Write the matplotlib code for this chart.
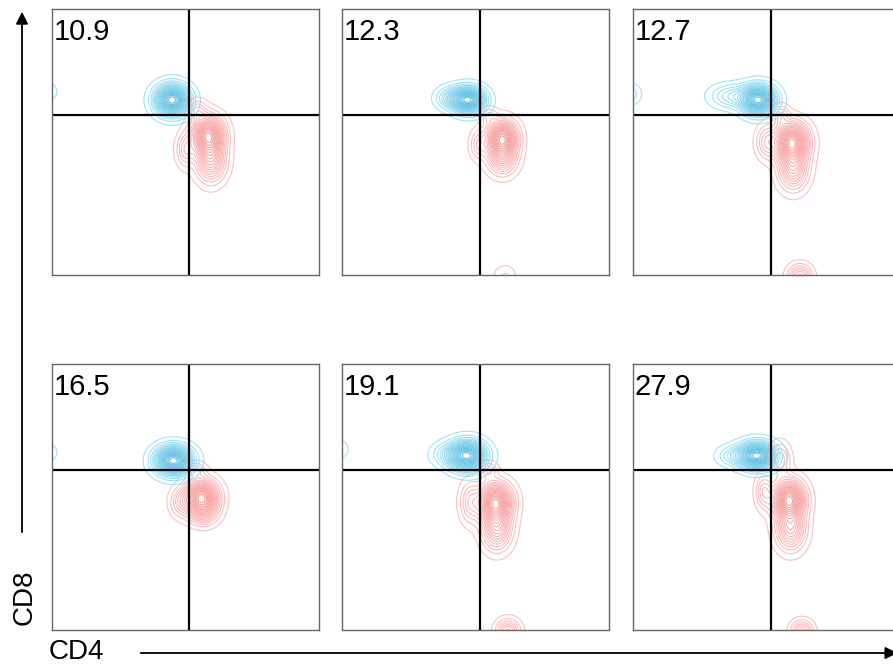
import numpy as np
import matplotlib.pyplot as plt
from matplotlib.patches import FancyArrowPatch
from matplotlib.colors import LinearSegmentedColormap

plt.rcParams['font.family'] = ['Liberation Sans', 'DejaVu Sans']

panel_labels = ['10.9', '12.3', '12.7', '16.5', '19.1', '27.9']

# quadrant gate, in axes fraction
gate_x = [0.513, 0.515, 0.516, 0.513, 0.515, 0.516]
gate_y = [0.600, 0.603, 0.603, 0.600, 0.600, 0.603]

# populations as (x, y, sx, sy, weight)
cd8_pops = [
    [(0.450, 0.658, 0.040, 0.036, 1.0), (-0.010, 0.690, 0.022, 0.022, 0.07)],
    [(0.475, 0.658, 0.038, 0.030, 1.0), (0.410, 0.665, 0.035, 0.026, 0.30)],
    [(0.470, 0.658, 0.040, 0.034, 1.0), (0.370, 0.672, 0.050, 0.028, 0.25),
     (-0.010, 0.680, 0.025, 0.025, 0.13)],
    [(0.455, 0.637, 0.043, 0.034, 1.0), (-0.010, 0.667, 0.022, 0.022, 0.07)],
    [(0.470, 0.655, 0.043, 0.035, 1.0), (0.400, 0.660, 0.040, 0.028, 0.20),
     (-0.010, 0.680, 0.024, 0.024, 0.08)],
    [(0.465, 0.655, 0.043, 0.031, 1.0), (0.380, 0.655, 0.040, 0.024, 0.20)],
]

cd4_pops = [
    [(0.585, 0.525, 0.037, 0.045, 1.0), (0.595, 0.430, 0.035, 0.050, 0.55),
     (0.500, 0.470, 0.022, 0.040, 0.25), (0.545, 0.620, 0.022, 0.025, 0.20)],
    [(0.600, 0.515, 0.035, 0.040, 1.0), (0.600, 0.440, 0.035, 0.040, 0.45),
     (0.510, 0.490, 0.020, 0.035, 0.20), (0.550, 0.600, 0.020, 0.020, 0.15),
     (0.610, -0.005, 0.027, 0.027, 0.10)],
    [(0.595, 0.500, 0.039, 0.045, 1.0), (0.600, 0.400, 0.035, 0.050, 0.50),
     (0.500, 0.500, 0.025, 0.040, 0.25), (0.555, 0.600, 0.020, 0.025, 0.20),
     (0.625, -0.005, 0.028, 0.028, 0.40)],
    [(0.560, 0.500, 0.039, 0.040, 1.0), (0.480, 0.480, 0.025, 0.035, 0.20),
     (0.535, 0.600, 0.025, 0.020, 0.20), (0.565, 0.440, 0.035, 0.030, 0.30)],
    [(0.575, 0.480, 0.039, 0.045, 1.0), (0.580, 0.380, 0.035, 0.050, 0.50),
     (0.480, 0.480, 0.025, 0.050, 0.25), (0.550, 0.600, 0.020, 0.020, 0.20),
     (0.622, -0.005, 0.028, 0.028, 0.40)],
    [(0.585, 0.490, 0.037, 0.045, 1.0), (0.590, 0.380, 0.035, 0.050, 0.50),
     (0.490, 0.520, 0.020, 0.040, 0.25), (0.550, 0.640, 0.025, 0.040, 0.25),
     (0.633, -0.005, 0.026, 0.026, 0.35)],
]

blue_map = LinearSegmentedColormap.from_list('cd8', ['#8ee0f6', '#4db3dc'])
red_map = LinearSegmentedColormap.from_list('cd4', ['#fbb6b6', '#f48e8e'])

gx = np.linspace(0, 1, 400)
X, Y = np.meshgrid(gx, gx)


def density(pops):
    z = np.zeros_like(X)
    for (cx, cy, sx, sy, w) in pops:
        z += w * np.exp(-0.5 * ((X - cx) / sx) ** 2 - 0.5 * ((Y - cy) / sy) ** 2)
    return z


def draw_panel(ax, i):
    for pops, cmap in [(cd4_pops[i], red_map), (cd8_pops[i], blue_map)]:
        z = density(pops)
        lev = z.max() * np.linspace(0.03, 0.95, 18)
        ax.contour(X, Y, z, levels=lev, cmap=cmap, linewidths=0.8, alpha=0.85)
    ax.axvline(gate_x[i], color='black', lw=1.6)
    ax.axhline(gate_y[i], color='black', lw=1.6)
    ax.text(0.005, 0.968, panel_labels[i], transform=ax.transAxes,
            fontsize=21, ha='left', va='top')
    ax.set_xlim(0, 1)
    ax.set_ylim(0, 1)
    ax.set_xticks([])
    ax.set_yticks([])
    for sp in ax.spines.values():
        sp.set_color('#666666')
        sp.set_linewidth(1.0)


fig = plt.figure(figsize=(8.93, 6.70), dpi=100, facecolor='w')

lefts = [52 / 893, 342 / 893, 633 / 893]
bottoms = [1 - 275 / 670, 1 - 630 / 670]
w = 267 / 893
h = 266 / 670

for i in range(6):
    row, col = divmod(i, 3)
    ax = fig.add_axes([lefts[col], bottoms[row], w, h])
    draw_panel(ax, i)

# axis arrows
fig.add_artist(FancyArrowPatch((22 / 893, 1 - 535 / 670), (22 / 893, 1 - 9 / 670),
                               transform=fig.transFigure, arrowstyle='-|>',
                               mutation_scale=18, lw=1.3, color='black'))
fig.add_artist(FancyArrowPatch((138 / 893, 1 - 653 / 670), (1.008, 1 - 653 / 670),
                               transform=fig.transFigure, arrowstyle='-|>',
                               mutation_scale=18, lw=1.3, color='black'))
fig.text(25 / 893, 1 - 597 / 670, 'CD8', rotation=90, fontsize=20,
         ha='center', va='center')
fig.text(76 / 893, 1 - 652 / 670, 'CD4', fontsize=20, ha='center', va='center')

fig.savefig('out.png', dpi=100)
